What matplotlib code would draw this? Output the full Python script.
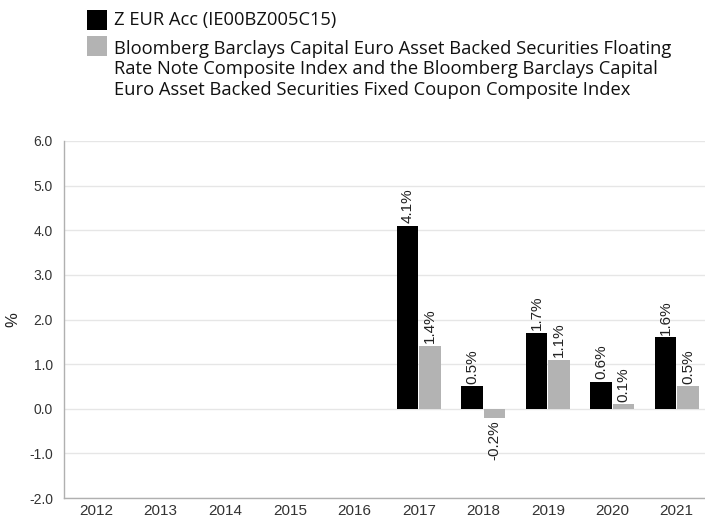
import matplotlib
matplotlib.use("Agg")
import matplotlib.pyplot as plt
from matplotlib.patches import Rectangle
import numpy as np

years = ["2012", "2013", "2014", "2015", "2016", "2017", "2018", "2019", "2020", "2021"]
fund = [None, None, None, None, None, 4.1, 0.5, 1.7, 0.6, 1.6]
index = [None, None, None, None, None, 1.4, -0.2, 1.1, 0.1, 0.5]
fund_name = "Z EUR Acc (IE00BZ005C15)"
index_name_lines = ["Bloomberg Barclays Capital Euro Asset Backed Securities Floating",
                    "Rate Note Composite Index and the Bloomberg Barclays Capital",
                    "Euro Asset Backed Securities Fixed Coupon Composite Index"]
yticks = [-2.0, -1.0, 0.0, 1.0, 2.0, 3.0, 4.0, 5.0, 6.0]

plt.rcParams['font.family'] = ['Liberation Sans', 'DejaVu Sans']

W, H = 705, 519
fig = plt.figure(figsize=(W / 100, H / 100), dpi=100)
left, right = 64, 709
top, bottom = 141, 498
ax = fig.add_axes([left / W, 1 - bottom / H, (right - left) / W, (bottom - top) / H])

x = np.arange(len(years))
bw = 0.335
gap = 0.008
fx = [xi - bw / 2 - gap for xi, v in zip(x, fund) if v is not None]
fv = [v for v in fund if v is not None]
ix = [xi + bw / 2 + gap for xi, v in zip(x, index) if v is not None]
iv = [v for v in index if v is not None]
ax.bar(fx, fv, width=bw, color="#000000", zorder=3)
ax.bar(ix, iv, width=bw, color="#b3b3b3", zorder=3)

lab_kw = dict(rotation=90, fontsize=11, color="#222222")
for xs, vs in ((fx, fv), (ix, iv)):
    for xx, v in zip(xs, vs):
        if v >= 0:
            ax.annotate(f"{v:.1f}%", (xx, v), xytext=(0, 2), textcoords="offset points",
                        ha="center", va="bottom", **lab_kw)
        else:
            ax.annotate(f"{v:.1f}%", (xx, v), xytext=(0, -2), textcoords="offset points",
                        ha="center", va="top", **lab_kw)

ax.set_xlim(-0.5, len(years) - 0.5)
ax.set_ylim(-2, 6)
ax.set_yticks(yticks)
ax.set_yticklabels([f"{t:.1f}" for t in yticks])
ax.set_xticks(x)
ax.set_xticklabels(years)
ax.tick_params(length=0, labelcolor="#333333")
ax.tick_params(axis="y", labelsize=10, pad=8)
ax.tick_params(axis="x", labelsize=11, pad=4)
ax.grid(axis="y", color="#e6e6e6", linewidth=1, zorder=0)
for s in ("top", "right"):
    ax.spines[s].set_visible(False)
for s in ("left", "bottom"):
    ax.spines[s].set_color("#b0b0b0")
    ax.spines[s].set_linewidth(1)
ax.set_ylabel("%", fontsize=12, color="#222222", labelpad=6)

# legend
fig.patches.append(Rectangle((87 / W, 1 - 30 / H), 20 / W, 20 / H, transform=fig.transFigure,
                             facecolor="#000000", edgecolor="none"))
fig.patches.append(Rectangle((87 / W, 1 - 56 / H), 20 / W, 20 / H, transform=fig.transFigure,
                             facecolor="#b3b3b3", edgecolor="none"))
leg_kw = dict(fontsize=13.2, family="Open Sans", color="#111111", va="center", ha="left")
fig.text(114 / W, 1 - 20 / H, fund_name, **leg_kw)
for i, line in enumerate(index_name_lines):
    fig.text(114 / W, 1 - (49 + 20.5 * i) / H, line, **leg_kw)

fig.savefig("out.png", dpi=100)
